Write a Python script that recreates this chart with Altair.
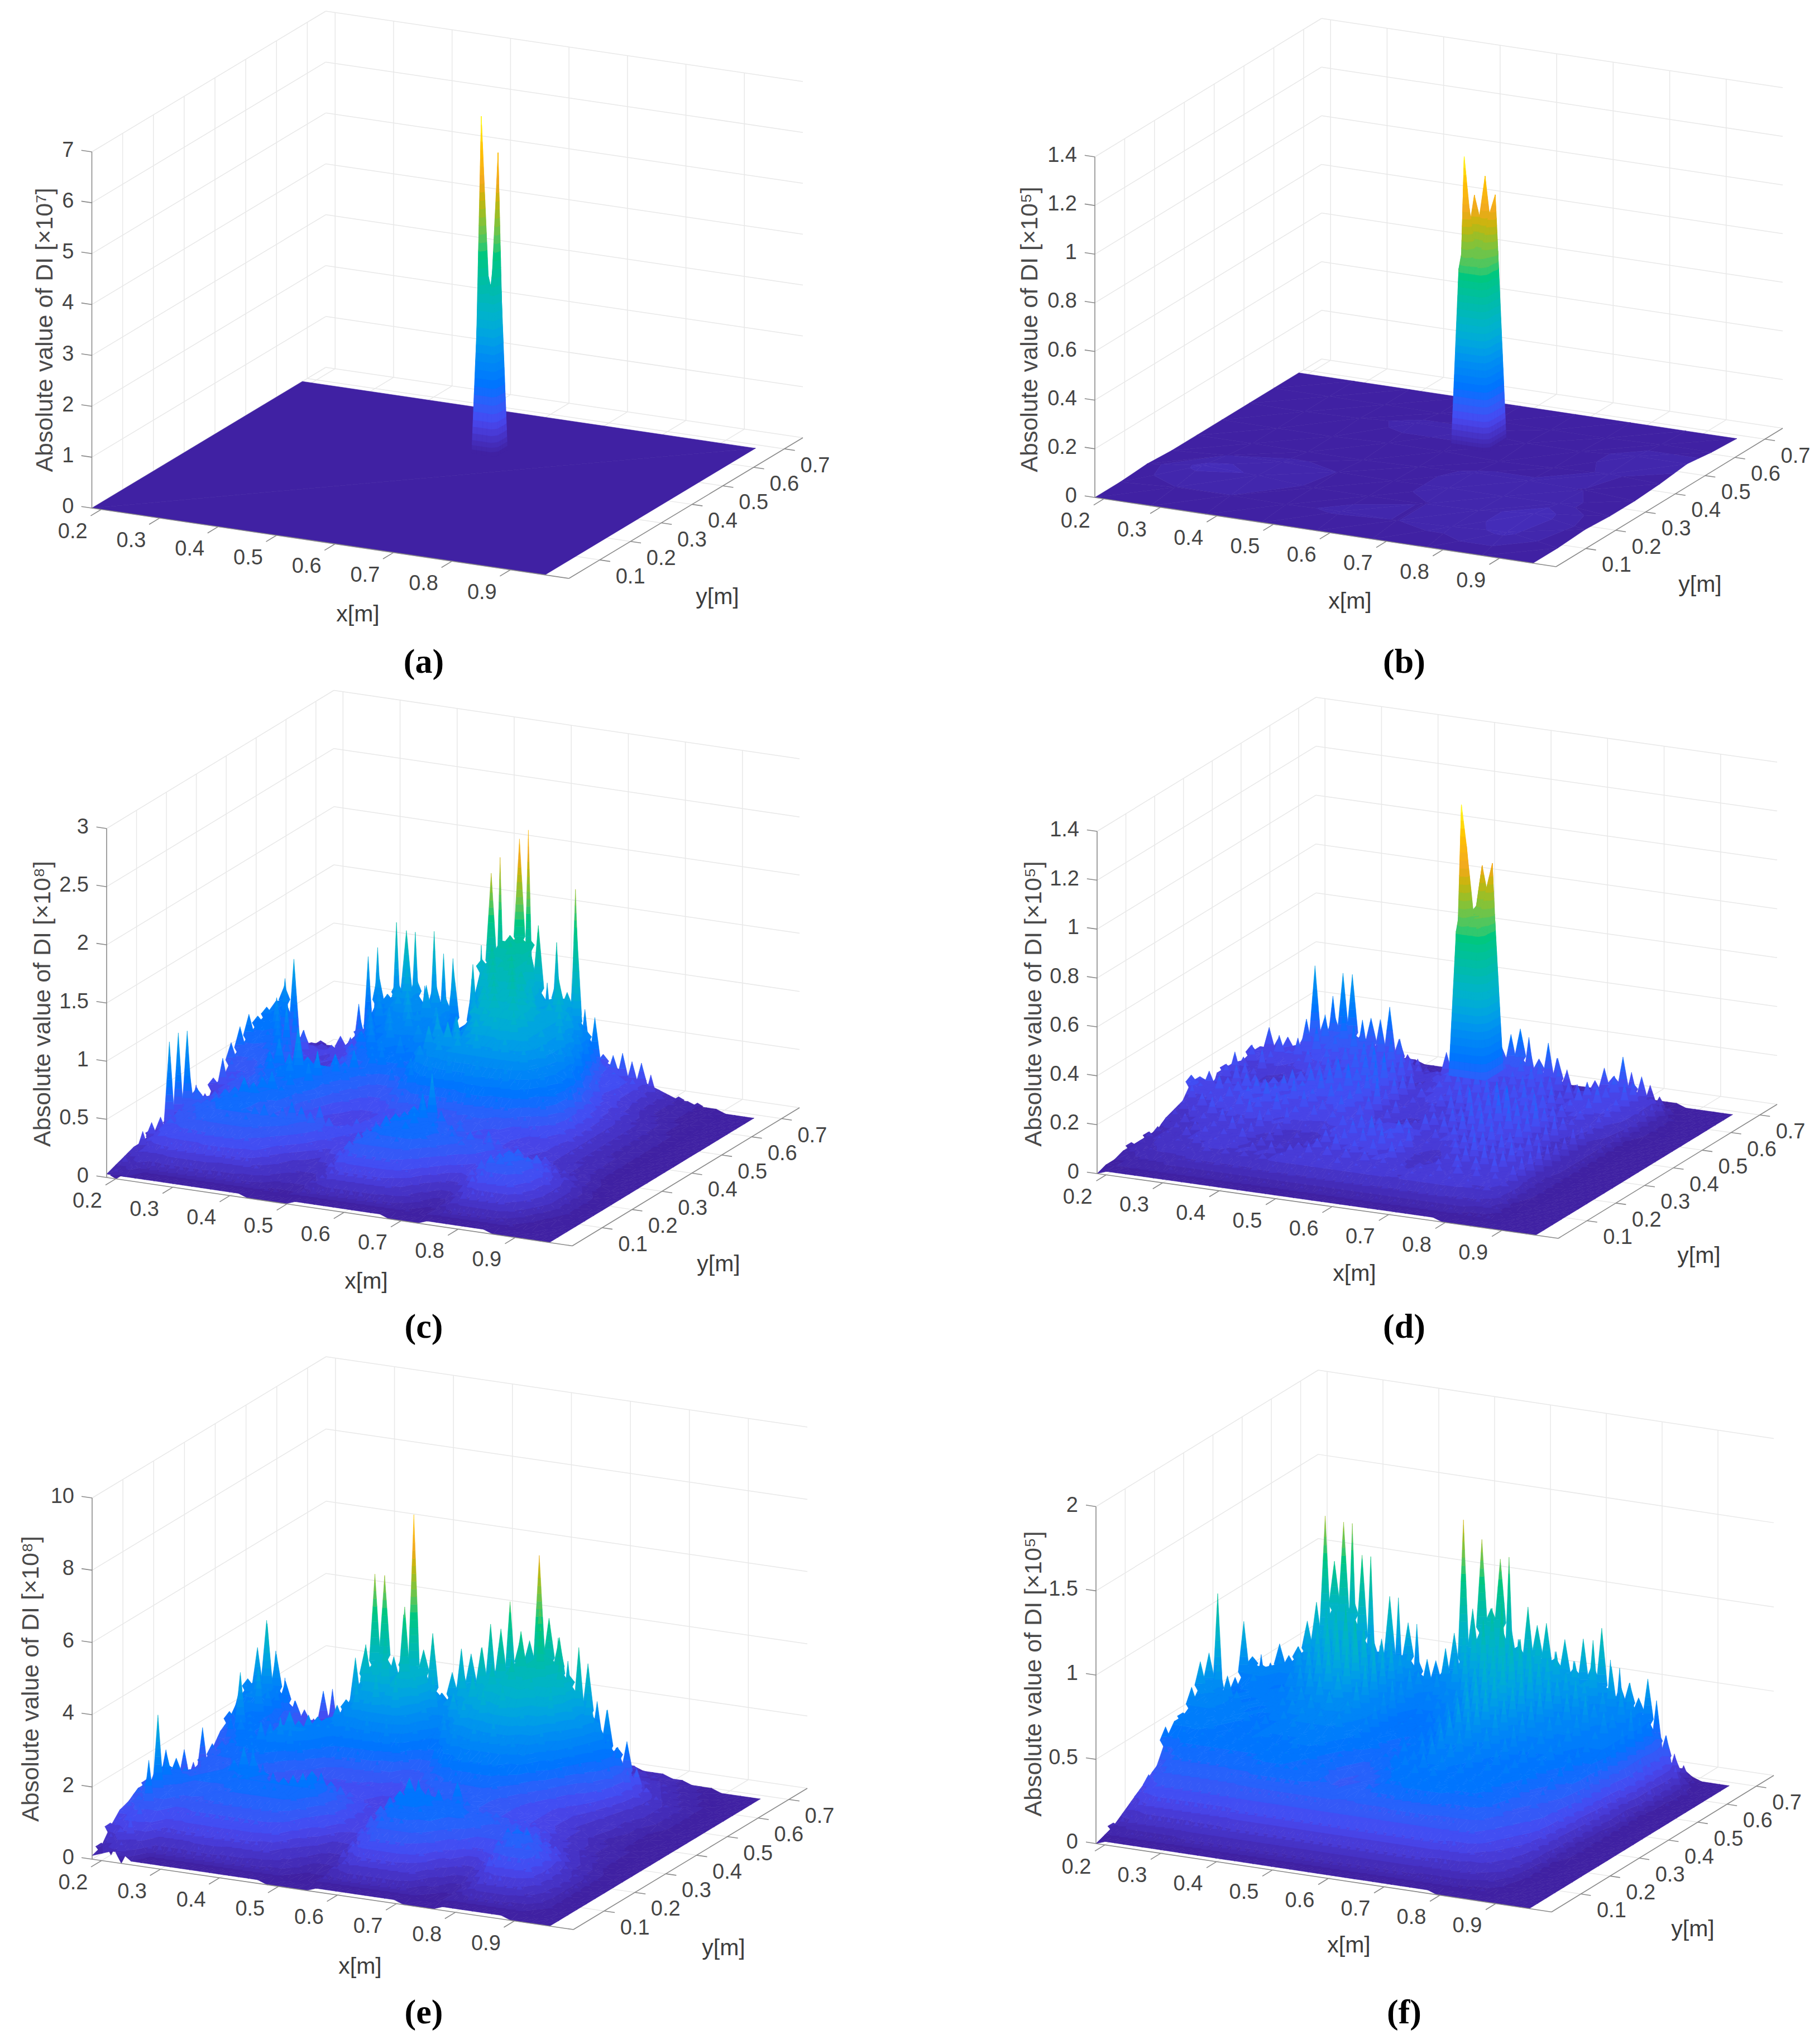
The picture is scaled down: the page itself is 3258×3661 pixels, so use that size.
import altair as alt

# ---- colour ramp (fraction of each panel's peak -> colour)
RAMP_STOPS = [0, .1, .2, .3, .4, .5, .6, .7, .8, .9, 1]
RAMP_COLORS = ["#3F1F9E", "#4848F0", "#0070FF", "#0090F0", "#00B0D0", "#00BCA8",
               "#10C878", "#90C030", "#F0A820", "#FFC000", "#FFFF30"]
LEVELS = [0, .012, .025, .04, .06, .08, .1] + [round(.1 + .025 * k, 3) for k in range(1, 37)]
NEEDLE_W = 10

# ---- axis ticks
X_TICKS = [.2, .3, .4, .5, .6, .7, .8, .9]
Y_TICKS = [.1, .2, .3, .4, .5, .6, .7]
X_RANGE = (.184, 1.0)
Y_RANGE = (0, .76)

# ---- dense surface sampling (metres); rows run from the back (large y) to the front
DENSE_X = [.184 + .776 * i / 47 for i in range(48)]
DENSE_Y = [.684 * (1 - j / 23) for j in range(24)]

# heights are read as % of the top of each z axis
C_Z = [
[3,4,3,2,4,3,5,4,6,5,7,5,8,6,7,5,6,8,6,7,5,6,7,9,8,11,13,15,13,11,10,12,9,8,6,7,5,4,3,3,2,2,1,1,0,0,0,0],
[6,5,4,5,6,7,18,32,35,22,43,25,41,26,42,36,35,14,30,40,40,66,44,46,75,46,32,44,28,60,26,14,10,14,15,13,13,10,5,3,2,2,1,1,1,0,0,0],
[20,9,6,7,6,10,8,13,14,30,24,28,43,30,22,30,24,34,14,30,38,63,44,46,74,46,50,28,36,30,54,22,26,10,11,9,10,7,4,2,2,1,1,1,0,0,0,0],
[24,32,12,8,7,9,8,12,18,22,26,20,28,34,26,24,30,28,20,15,38,36,44,40,46,42,44,32,30,36,34,40,24,16,9,10,7,6,4,3,2,2,1,1,1,0,0,0],
[21,28,10,14,8,6,8,7,12,16,20,26,18,28,30,22,32,26,24,18,16,34,38,46,42,44,38,36,28,32,40,30,28,22,12,8,9,6,5,3,3,2,1,1,1,0,0,0],
[21,18,12,22,9,7,6,8,10,14,18,24,20,26,24,30,26,22,28,20,24,18,32,36,44,40,46,42,38,30,34,36,32,26,18,14,8,8,6,4,3,2,2,1,1,0,0,0],
[20,19,26,12,10,8,7,7,9,12,16,20,24,18,26,22,28,24,22,26,22,28,20,32,38,42,38,44,40,36,32,30,34,28,24,14,10,7,7,5,3,3,2,1,1,0,0,0],
[22,16,18,24,26,12,8,7,8,10,12,16,18,24,20,26,18,22,26,20,30,26,24,22,34,38,42,36,44,38,34,30,28,32,26,20,12,8,7,5,4,3,2,2,1,0,0,0],
[20,14,15,17,22,18,10,9,9,10,12,14,16,14,20,22,18,24,16,22,28,30,26,32,24,32,36,40,36,40,36,30,32,26,28,22,16,10,7,6,4,3,2,1,1,0,0,0],
[17,12,14,13,16,20,14,12,13,12,14,16,14,18,14,20,22,16,20,18,24,30,28,32,30,26,34,30,36,34,38,32,28,30,24,20,18,10,8,5,4,3,2,2,1,0,0,0],
[8,14,10,12,14,18,20,16,17,15,18,16,20,18,22,16,14,12,18,16,22,26,24,28,26,30,28,32,28,30,32,28,30,24,24,18,14,12,8,6,4,3,2,1,1,0,0,0],
[10,16,12,13,12,16,20,24,18,28,20,18,16,20,18,14,12,10,12,14,18,22,20,24,22,26,22,24,26,22,24,26,22,20,17,18,12,10,8,6,4,3,2,2,1,0,0,0],
[2,8,10,12,14,13,16,20,18,22,26,18,24,16,14,12,10,8,9,10,14,16,14,18,14,16,18,16,20,18,16,18,16,14,14,12,10,8,7,6,4,3,3,2,1,0,0,0],
[3,9,8,11,12,13,14,17,16,20,22,16,22,14,10,8,8,7,8,9,11,10,12,10,9,11,10,13,11,14,12,13,10,9,8,8,7,7,6,5,4,3,3,2,1,0,0,0],
[6,13,10,12,11,12,13,15,14,18,16,20,16,14,9,7,7,8,9,10,9,8,10,9,10,12,14,16,12,14,10,12,10,9,8,9,7,6,7,5,4,4,3,2,1,0,0,0],
[5,30,14,12,10,13,14,16,18,20,22,18,16,10,8,9,11,9,10,12,10,8,10,11,12,17,22,28,17,12,15,12,11,14,12,10,9,8,8,9,7,6,5,3,2,1,0,0],
[6,31,24,16,13,15,17,18,21,20,17,14,12,9,11,14,16,13,11,9,8,12,14,12,16,18,20,22,16,14,16,13,15,12,14,11,10,12,10,11,9,8,6,4,2,1,1,0],
[5,30,10,12,14,15,16,17,18,16,14,13,14,16,18,17,15,12,9,8,8,10,13,15,18,19,16,20,16,18,15,16,14,13,11,10,9,12,14,12,13,10,7,5,3,2,1,0],
[6,10,11,13,13,14,15,15,16,17,16,17,18,16,15,13,11,9,8,7,8,11,14,15,17,18,17,19,17,16,14,12,11,9,8,9,12,14,15,14,14,11,9,6,4,2,1,0],
[4,10,9,12,12,13,14,14,15,16,15,16,14,13,11,9,7,5,4,5,7,10,13,14,15,16,15,16,14,12,10,8,6,5,7,10,13,15,15,14,12,9,7,5,3,2,1,0],
[4,9,8,10,10,11,12,12,13,13,13,12,12,10,9,6,5,4,3,3,5,8,11,12,13,13,13,12,11,9,7,4,3,2,4,7,10,12,12,11,10,8,6,4,2,1,1,0],
[3,5,6,7,8,9,9,9,9,10,10,9,9,8,6,5,3,3,2,2,4,6,8,9,9,9,9,8,7,5,4,3,2,1,3,5,7,8,8,8,7,5,4,2,1,1,0,0],
[2,5,3,4,5,5,6,5,6,5,5,5,4,4,3,2,2,2,1,2,3,4,4,5,5,5,5,4,4,3,2,2,1,1,2,3,4,4,4,4,3,3,2,1,1,0,0,0],
[1,3,1,1,1,1,1,1,1,1,1,1,1,1,1,0,0,0,0,0,1,1,1,1,1,1,1,1,1,1,0,0,0,0,1,1,1,1,1,1,1,0,0,0,0,0,0,0],
]
D_Z = [
[2,2,3,3,4,5,5,5,4,4,4,3,3,3,2,2,2,2,2,2,2,3,3,3,3,3,3,3,2,2,2,2,2,2,1,1,1,1,1,1,1,1,0,0,0,0,0,0],
[3,3,4,5,6,8,7,8,8,7,6,5,6,5,4,3,3,3,4,4,4,4,4,5,5,5,6,6,5,5,5,4,4,4,5,5,6,5,5,4,3,1,1,0,0,0,0,0],
[4,5,6,7,26,12,22,10,14,12,16,8,16,9,8,5,5,4,4,12,8,6,6,8,10,12,14,18,11,9,13,9,6,4,5,7,9,10,12,8,9,6,3,1,0,0,0,0],
[11,9,7,6,12,32,17,19,31,31,14,19,19,23,14,9,9,6,6,8,20,14,12,12,14,16,20,22,17,14,19,15,12,6,6,10,14,12,18,11,13,7,6,2,0,0,0,0],
[8,14,10,12,9,18,10,20,14,22,12,20,10,18,12,16,8,9,6,8,14,10,14,8,16,10,16,9,15,8,15,8,14,6,10,7,11,8,14,9,13,6,7,2,1,0,0,0],
[10,8,9,14,10,14,8,18,11,16,9,20,10,16,10,18,8,12,5,7,9,10,14,9,16,9,14,8,13,9,15,8,13,7,12,8,13,9,12,8,14,7,7,2,1,0,0,0],
[7,12,6,11,8,8,10,13,8,14,9,15,10,17,9,14,10,15,6,8,6,8,12,8,16,9,16,8,13,8,14,9,14,7,11,8,13,9,14,8,11,6,6,1,0,0,0,0],
[8,10,7,13,5,6,6,8,7,12,9,14,10,16,11,18,9,15,7,12,6,9,11,7,14,8,16,8,12,7,13,10,13,8,14,7,11,8,12,7,10,5,6,1,0,0,0,0],
[9,13,6,9,5,5,5,7,8,13,9,15,8,14,11,17,12,19,8,13,7,10,8,9,12,7,13,9,15,8,14,8,15,8,13,7,11,7,10,6,9,4,5,1,0,0,0,0],
[8,11,7,12,7,8,7,9,8,12,9,14,11,17,9,15,11,18,8,14,6,9,7,8,11,7,14,7,13,9,17,8,13,9,15,8,12,7,9,6,8,3,4,1,0,0,0,0],
[1,9,7,13,8,11,9,11,9,14,10,15,10,16,11,18,10,16,7,12,6,8,6,7,10,6,13,8,16,8,15,9,18,8,14,7,13,6,11,5,9,3,4,1,0,0,0,0],
[10,12,8,11,9,13,9,12,10,14,8,13,10,16,9,14,10,15,8,17,6,11,5,5,7,6,10,7,12,7,14,8,17,8,15,9,16,7,13,5,10,3,3,1,0,0,0,0],
[12,10,8,13,9,12,10,14,9,13,10,15,8,13,9,15,10,14,9,13,7,10,5,6,8,6,11,7,13,7,15,8,14,8,16,7,14,6,12,5,9,3,3,1,0,0,0,0],
[6,11,7,10,8,12,9,13,10,15,8,12,9,14,8,12,9,14,8,12,8,9,8,8,10,7,12,7,12,8,14,7,15,7,13,8,14,6,11,5,9,3,3,1,0,0,0,0],
[5,8,6,11,7,11,8,12,8,12,9,14,7,11,8,12,7,11,8,10,7,10,11,8,10,11,9,6,10,8,12,7,13,8,14,7,12,8,12,6,10,3,2,1,0,0,0,0],
[4,7,5,9,7,12,6,10,7,13,6,11,8,12,5,8,5,9,8,12,9,13,8,12,10,13,8,6,8,5,8,10,12,7,13,6,13,7,11,6,12,3,2,1,0,0,0,0],
[2,6,4,8,5,9,7,11,6,10,7,12,5,9,4,7,3,6,6,10,8,13,9,15,7,12,9,13,6,4,6,7,11,7,14,6,12,6,13,6,11,3,2,1,0,0,0,0],
[3,5,4,7,5,8,6,9,7,11,6,10,5,8,4,6,4,7,7,11,7,12,8,13,9,14,7,11,6,4,6,6,9,6,12,7,13,6,12,6,11,4,2,1,0,0,0,0],
[2,5,4,6,5,8,6,9,6,9,7,10,5,8,5,7,5,8,6,10,7,12,7,11,7,12,8,12,7,5,7,7,9,6,11,7,11,6,12,6,10,4,1,1,0,0,0,0],
[3,4,3,6,5,6,5,8,6,8,6,8,6,8,6,9,6,9,6,10,7,10,7,10,7,10,7,9,6,8,6,8,6,9,7,10,7,10,6,9,7,5,1,0,0,0,0,0],
[2,3,3,4,4,5,5,6,5,7,5,7,5,7,5,7,6,8,6,8,6,8,6,9,6,8,6,8,6,8,6,8,6,8,6,8,6,8,6,7,5,4,1,0,0,0,0,0],
[1,2,2,3,3,4,3,4,4,5,4,5,4,5,4,5,4,6,4,6,4,6,5,6,5,6,5,6,4,5,4,6,4,6,5,6,4,5,4,5,4,3,1,0,0,0,0,0],
[1,1,1,2,2,2,2,3,2,3,2,3,2,3,2,3,2,3,2,3,2,3,2,3,2,3,2,3,2,3,2,3,2,3,2,3,2,3,2,2,2,2,1,0,0,0,0,0],
[0,1,1,1,1,1,1,1,1,1,1,1,1,1,1,1,1,1,1,1,1,1,1,1,1,1,1,1,1,1,1,1,1,1,1,1,1,0,0,0,0,0,0,0,0,0,0,0],
]
E_Z = [
[3,3,4,3,3,3,4,4,5,4,4,5,5,6,5,5,6,6,6,7,6,6,7,6,6,7,6,6,5,5,5,6,5,4,4,3,3,3,2,2,1,1,1,0,0,0,0,0],
[5,6,5,5,15,10,16,8,8,7,8,9,8,9,10,10,11,10,10,9,10,9,10,11,10,12,11,10,9,10,9,8,8,8,7,6,5,4,3,3,2,2,1,1,0,0,0,0],
[3,4,5,8,16,12,10,9,10,9,11,12,13,12,14,13,14,14,13,14,14,15,16,16,15,15,14,13,13,12,12,11,11,9,8,7,6,5,4,4,3,2,2,1,1,0,0,0],
[8,20,14,12,9,8,8,9,10,12,12,14,15,16,18,18,18,20,16,20,22,20,24,24,22,26,24,26,24,22,24,20,20,17,16,14,10,8,6,5,4,3,2,2,1,0,0,0],
[14,29,21,16,10,9,8,9,10,13,15,17,20,16,24,22,26,22,24,20,26,22,32,28,34,30,36,30,38,34,44,38,34,30,28,26,16,12,9,6,5,3,3,2,1,1,0,0],
[22,39,30,20,12,10,9,10,11,14,16,18,22,26,30,24,34,28,30,26,29,39,38,30,47,32,54,39,44,68,51,45,36,27,40,24,28,18,20,13,8,6,4,3,2,1,0,0],
[24,33,40,22,14,12,10,11,12,15,17,20,28,34,42,36,48,38,36,44,21,34,36,30,42,36,48,38,46,40,56,42,48,38,46,34,26,22,20,14,8,6,4,3,2,1,0,0],
[20,22,29,24,16,13,11,12,13,17,20,24,36,39,60,60,25,40,78,41,35,23,28,36,32,44,36,46,40,50,42,52,38,44,32,28,22,18,16,10,7,5,3,2,1,0,0,0],
[18,24,22,31,18,14,12,13,14,18,20,22,26,32,42,38,46,34,54,36,28,20,26,32,30,38,34,42,36,44,38,40,34,38,26,24,18,14,12,8,5,4,3,2,1,1,0,0],
[14,16,18,20,18,15,14,15,16,20,22,20,26,24,32,30,36,28,36,26,24,18,16,26,26,32,28,36,30,38,32,32,26,28,20,18,13,10,9,6,4,4,2,2,1,0,0,0],
[10,14,20,33,20,18,16,17,18,22,24,22,22,20,24,22,26,20,26,20,18,13,14,20,20,26,24,28,26,30,26,26,22,20,15,13,10,8,7,5,4,3,2,2,1,0,0,0],
[8,12,13,15,22,20,18,22,22,26,22,20,18,16,18,16,18,14,16,12,12,11,12,15,16,20,20,22,20,22,20,20,16,15,11,10,8,7,6,5,4,3,2,2,1,0,0,0],
[6,20,16,17,18,19,20,24,22,26,24,20,14,13,12,11,12,11,11,10,10,10,11,12,13,16,16,18,16,18,17,16,14,12,9,9,8,7,6,5,5,3,2,2,1,1,0,0],
[6,12,14,15,16,17,18,20,18,16,15,13,10,9,9,10,10,10,9,8,8,8,9,10,11,13,12,14,13,15,14,13,12,11,10,9,9,8,8,6,5,4,3,2,2,1,0,0],
[7,17,12,13,14,15,15,16,14,12,11,10,9,10,10,12,14,13,12,10,9,8,9,11,12,12,13,13,14,18,15,13,13,12,11,11,11,10,9,7,6,5,4,3,2,1,0,0],
[9,12,13,14,13,14,15,16,18,22,18,14,14,12,11,14,18,16,15,12,10,8,9,12,14,16,20,18,14,16,21,16,14,14,14,13,12,10,10,9,7,6,5,3,2,1,0,0],
[12,20,17,16,15,15,16,17,20,24,22,18,18,16,16,18,20,18,16,13,11,8,9,13,16,18,22,20,18,20,16,18,15,15,15,14,13,11,11,12,10,9,7,4,3,2,1,0],
[13,17,18,20,16,15,15,16,17,18,18,17,17,18,19,20,21,19,14,12,10,7,8,12,15,17,20,19,18,19,16,16,17,15,15,12,12,13,15,15,13,11,9,6,4,3,1,0],
[12,15,17,22,16,15,14,14,15,15,16,17,17,18,18,17,16,15,11,9,8,5,6,10,13,15,18,18,17,18,15,15,14,11,11,9,10,12,16,16,16,13,11,7,5,3,1,0],
[10,14,18,35,14,14,13,13,13,14,14,15,15,15,15,14,13,11,8,6,5,3,4,8,11,13,16,16,16,15,13,13,10,7,6,4,7,9,14,15,15,14,13,8,5,3,1,0],
[9,12,14,24,11,11,11,11,12,12,12,12,12,12,12,11,10,8,5,4,3,2,3,7,9,10,13,13,13,12,10,10,7,4,3,2,5,7,11,12,12,12,11,7,4,2,1,0],
[7,9,10,13,8,8,8,8,9,9,9,9,9,9,8,8,7,5,3,3,2,1,2,4,6,7,9,9,9,8,7,7,4,2,2,1,3,4,7,8,8,7,7,4,3,2,0,0],
[3,6,8,11,5,5,5,5,5,5,6,5,5,5,4,4,3,3,2,1,1,1,1,3,3,4,5,5,5,5,4,4,2,1,1,1,2,2,4,4,4,3,3,2,1,1,0,0],
[1,2,3,6,1,1,1,1,1,1,1,1,1,1,1,1,1,1,0,0,0,0,0,1,1,1,1,1,1,1,1,1,0,0,0,0,1,1,1,1,1,1,1,0,0,0,0,0],
]
F_Z = [
[2,3,3,4,5,5,6,5,6,6,6,5,5,5,5,4,4,4,5,5,6,6,6,6,6,6,6,6,6,5,5,5,5,5,5,5,5,4,4,4,4,3,3,1,0,0,0,0],
[4,3,5,8,12,14,16,14,16,15,15,14,13,13,12,12,12,11,12,13,15,15,16,17,18,16,16,16,16,15,14,14,14,14,14,14,14,13,12,12,12,12,9,6,2,0,0,0],
[5,6,8,18,26,32,40,50,65,40,56,30,36,45,32,38,26,24,22,24,30,32,40,44,48,62,38,36,40,34,36,38,34,28,32,30,36,34,26,24,22,26,16,10,4,0,0,0],
[10,14,20,26,28,34,68,55,67,45,58,35,30,47,30,40,30,26,30,28,39,73,47,68,48,63,46,38,50,45,46,36,42,34,43,36,47,29,31,32,28,34,19,18,9,3,0,0],
[26,24,30,27,30,38,44,30,42,34,40,30,38,28,36,30,34,24,32,26,36,30,42,34,46,32,44,34,42,30,46,32,40,30,38,32,45,26,38,26,34,24,23,14,7,2,0,0],
[27,25,24,28,24,32,38,28,44,30,42,32,40,26,38,28,34,24,30,22,30,26,36,28,48,30,52,34,46,30,44,28,40,28,36,26,34,26,32,24,34,22,26,14,6,2,0,0],
[39,26,24,22,20,26,32,26,40,30,46,30,44,28,40,26,38,24,32,22,26,22,28,26,40,28,50,36,56,30,46,28,40,26,36,24,36,24,30,22,28,22,30,16,8,1,0,0],
[24,22,26,24,22,22,28,24,36,28,44,32,50,30,44,26,38,24,30,20,24,20,26,24,30,26,38,30,44,36,48,28,42,26,38,26,34,24,34,22,30,22,26,14,5,1,0,0],
[19,20,22,24,22,24,26,24,32,26,38,30,44,32,48,28,40,24,32,20,22,20,24,22,28,24,36,28,42,30,44,28,40,26,36,24,30,24,30,22,26,22,24,12,4,1,0,0],
[52,24,22,20,22,22,24,22,28,24,34,28,40,30,42,28,38,24,30,20,22,20,22,20,26,22,32,26,38,28,40,28,38,24,34,24,30,22,28,20,24,20,22,10,5,1,0,0],
[36,34,30,26,22,20,22,22,26,24,30,26,34,28,36,28,34,24,28,20,20,18,20,20,24,22,30,26,36,28,38,26,36,22,32,22,28,22,26,20,24,18,20,10,3,1,0,0],
[35,28,26,24,22,22,22,20,24,22,28,24,30,26,32,26,30,22,26,20,20,18,22,20,24,20,28,24,34,26,36,24,34,22,30,20,26,22,26,18,24,18,18,9,3,1,0,0],
[29,26,26,24,22,22,24,20,24,22,26,24,28,24,28,24,28,22,24,20,22,18,20,18,22,20,26,24,32,24,34,22,30,20,28,20,26,20,24,18,22,16,16,8,2,1,0,0],
[23,24,24,22,22,20,22,20,24,22,24,22,26,22,26,22,24,20,22,18,18,18,20,20,24,20,26,22,30,22,30,22,28,20,26,20,24,20,22,16,20,14,14,7,2,1,0,0],
[22,22,22,22,24,20,22,20,22,22,24,20,24,22,24,22,24,18,20,16,16,16,18,18,22,20,24,20,28,22,28,20,26,20,24,20,24,18,22,16,18,14,12,6,2,1,0,0],
[22,20,22,20,22,20,22,20,22,20,22,20,22,20,24,20,22,18,20,14,14,14,16,16,20,20,24,20,26,22,26,20,24,20,22,20,22,18,20,14,16,12,10,5,1,0,0,0],
[12,18,18,20,20,18,20,18,20,18,20,20,22,20,22,18,20,18,20,14,14,14,16,16,18,18,22,20,24,20,24,20,22,20,22,20,22,18,18,14,14,12,10,5,1,0,0,0],
[10,14,16,18,18,18,18,18,18,18,18,18,20,18,20,20,20,18,18,18,16,16,16,16,18,18,20,20,22,20,22,20,20,20,20,20,20,18,18,14,12,10,8,4,1,0,0,0],
[8,13,14,15,16,16,16,16,16,16,17,17,17,18,18,18,18,18,17,17,16,16,16,16,16,16,18,18,18,20,20,20,18,18,18,18,16,15,14,12,10,8,6,3,1,0,0,0],
[6,10,12,13,14,14,14,14,14,14,14,14,15,15,15,15,15,15,15,15,15,14,14,14,14,15,15,15,15,16,16,16,15,15,15,15,14,13,12,10,8,7,5,2,0,0,0,0],
[4,8,9,10,11,11,11,11,11,11,11,11,11,12,12,12,12,12,12,12,12,12,12,12,12,12,12,12,12,12,12,12,12,12,11,11,11,10,9,8,6,5,4,1,0,0,0,0],
[3,5,6,6,7,7,7,7,7,7,7,7,7,8,8,8,8,8,8,8,8,8,8,8,8,8,8,8,8,8,8,8,8,8,7,7,7,6,6,5,4,3,2,1,0,0,0,0],
[1,2,2,3,3,3,3,3,3,4,4,4,4,4,4,4,4,4,4,4,4,4,4,4,4,4,4,4,4,4,4,4,4,3,3,3,3,3,3,2,2,2,1,0,0,0,0,0],
[0,1,1,1,1,1,1,1,1,1,1,1,1,1,1,1,1,1,1,1,1,1,1,1,1,1,1,1,1,1,1,1,1,1,1,1,1,0,0,0,0,0,0,0,0,0,0,0],
]

# the single damage column in (a), (b), (d)
A_COL_X = [.581, .589, .598, .606, .614, .622]
A_COL_Y = [.518, .511, .503, .496, .488, .480]
A_COL_Z = [
[0,0,0,0,0,0],
[0,12,45,48,50,0],
[0,55,46,47,84,0],
[0,94,46,44,60,0],
[0,48,42,42,50,0],
[0,0,0,0,0,0],
]
COL_X = [.572, .581, .590, .599, .609, .618, .627, .637]
COL_Y = [.521, .512, .503, .495, .486, .477, .468, .460]
B_COL_Z = [
[0,0,0,0,0,0,0,0],
[0,35,50,54,55,58,56,0],
[0,52,72,66,78,58,73,0],
[0,58,56,54,57,66,55,0],
[0,84,69,56,55,56,54,0],
[0,56,58,55,56,55,53,0],
[0,52,54,53,52,54,35,0],
[0,0,0,0,0,0,0,0],
]
D_COL_Z = [
[14,14,14,14,14,14,14,14],
[14,30,55,58,60,62,58,14],
[14,55,60,62,74,60,75,14],
[14,60,58,58,60,66,60,14],
[14,92,80,60,58,60,56,14],
[14,60,62,58,60,58,56,14],
[14,56,58,56,55,58,30,14],
[14,14,14,14,14,14,14,14],
]
# flat floor of (a) and faintly raised floor of (b)
FLOOR_X = [.184, .959]
FLOOR_Y = [.684, 0]
FLOOR_Z = [[0, 0], [0, 0]]
B_FLOOR_X = [.184, .282, .380, .478, .576, .674, .771, .869, .959]
B_FLOOR_Y = [.684, .600, .517, .426, .342, .258, .175, .084, 0]
B_FLOOR_Z = [
[0,0,0,0,0,0,0,0,0],
[0,0,0,0,0,0,0,.5,.5],
[0,0,.5,1.5,1.5,.5,.5,1.5,1.5],
[0,0,0,.5,.5,0,.5,1.2,.5],
[0,0,0,0,.5,1.2,1.2,1,0],
[0,1,1.5,1,.8,1.2,1.2,1.5,0],
[.5,2.5,2,.8,.8,1,1.5,3,.5],
[0,1,1,.8,1.2,1,1.5,2.5,0],
[0,0,0,0,0,0,0,0,0],
]

PANELS = [
 dict(name="(a)", L=(164.5,910), B=(1019,1036), R=(1438,784), H=638, peak=94,
      zt=[0,1,2,3,4,5,6,7], zl=[str(k) for k in range(8)], exp="⁷",
      meshes=[(FLOOR_X,FLOOR_Y,FLOOR_Z,0),(A_COL_X,A_COL_Y,A_COL_Z,1)],
      xl=(641,1101), yl=(1285,1070), zlab=(81,591), cap=(759,1186)),
 dict(name="(b)", L=(1961,891), B=(2787,1015), R=(3193,767), H=610, peak=85,
      zt=[0,.2,.4,.6,.8,1,1.2,1.4], zl=["0","0.2","0.4","0.6","0.8","1","1.2","1.4"], exp="⁵",
      meshes=[(B_FLOOR_X,B_FLOOR_Y,B_FLOOR_Z,0),(COL_X,COL_Y,B_COL_Z,1)],
      xl=(2418,1078), yl=(3045,1048), zlab=(1845,590), cap=(2515,1186)),
 dict(name="(c)", L=(191,2109), B=(1025,2231.5), R=(1432,1984), H=625, peak=85,
      zt=[0,.5,1,1.5,2,2.5,3], zl=["0","0.5","1","1.5","2","2.5","3"], exp="⁸",
      meshes=[(DENSE_X,DENSE_Y,C_Z,0)],
      xl=(656,2296), yl=(1287,2265), zlab=(77,1798), cap=(759,2377)),
 dict(name="(d)", L=(1965,2102), B=(2791,2218), R=(3183,1978), H=613, peak=92,
      zt=[0,.2,.4,.6,.8,1,1.2,1.4], zl=["0","0.2","0.4","0.6","0.8","1","1.2","1.4"], exp="⁵",
      meshes=[(DENSE_X,DENSE_Y,D_Z,0),(COL_X,COL_Y,D_COL_Z,0)],
      xl=(2426,2282), yl=(3043,2250), zlab=(1852,1798), cap=(2515,2377)),
 dict(name="(e)", L=(165,3330), B=(1027,3456), R=(1446,3203), H=647, peak=85,
      zt=[0,2,4,6,8,10], zl=["0","2","4","6","8","10"], exp="⁸",
      meshes=[(DENSE_X,DENSE_Y,E_Z,0)],
      xl=(645,3523), yl=(1296,3490), zlab=(56,3007), cap=(759,3605)),
 dict(name="(f)", L=(1963,3302), B=(2779,3424.5), R=(3177,3180), H=603.5, peak=95,
      zt=[0,.5,1,1.5,2], zl=["0","0.5","1","1.5","2"], exp="⁵",
      meshes=[(DENSE_X,DENSE_Y,F_Z,0)],
      xl=(2416,3485), yl=(3032,3456), zlab=(1852,2998), cap=(2515,3605)),
]


def uv(x, y):
    return (x - X_RANGE[0]) / (X_RANGE[1] - X_RANGE[0]), (y - Y_RANGE[0]) / (Y_RANGE[1] - Y_RANGE[0])


def at(p, u, v, h=0.0):
    L, B, R = p["L"], p["B"], p["R"]
    sx = L[0] + u * (B[0] - L[0]) + v * (R[0] - B[0])
    sy = L[1] + u * (B[1] - L[1]) + v * (R[1] - B[1]) - h * p["H"]
    return sx, sy


def clip(poly, lo, hi):
    def cut(pts, keep, t):
        out = []
        for a, b in zip(pts, pts[1:] + pts[:1]):
            ka, kb = keep(a[2]), keep(b[2])
            if ka:
                out.append(a)
            if ka != kb:
                s = (t - a[2]) / (b[2] - a[2])
                out.append((a[0] + s * (b[0] - a[0]), a[1] + s * (b[1] - a[1]), t))
        return out
    pts = cut(poly, lambda z: z >= lo, lo)
    return cut(pts, lambda z: z <= hi, hi) if pts else []


def split_needles(zs):
    """A node standing above its lower neighbours is drawn as a thin needle on a
    body surface that follows them, so narrow peaks stay narrow."""
    body, needles = [list(r) for r in zs], []
    rows, cols = len(zs), len(zs[0])
    for j in range(rows):
        for i in range(cols):
            around = sorted(zs[b][a] for b in range(max(j - 1, 0), min(j + 2, rows))
                            for a in range(max(i - 1, 0), min(i + 2, cols)) if (a, b) != (i, j))
            low = around[len(around) // 4]
            if zs[j][i] - low >= 1:
                body[j][i] = low
                needles.append((i, j, zs[j][i], low))
    return body, needles


def surface(p):
    tris = []
    for xs, ys, zs, prio in p["meshes"]:
        needles = []
        if len(xs) == len(DENSE_X):
            zs, needles = split_needles(zs)
        for j in range(len(ys) - 1):
            for i in range(len(xs) - 1):
                c = []
                for jj, ii in ((j, i), (j, i + 1), (j + 1, i), (j + 1, i + 1)):
                    pct = zs[jj][ii]
                    u, v = uv(xs[ii], ys[jj])
                    sx, sy = at(p, u, v, pct / 100)
                    c.append((sx, sy, pct / p["peak"], at(p, u, v)[1]))
                for t in ((c[0], c[1], c[2]), (c[1], c[3], c[2])):
                    tris.append((prio, sum(q[3] for q in t) / 3, [q[:3] for q in t]))
        for i, j, top, mid in needles:
            u, v = uv(xs[i], ys[j])
            ax, ay = at(p, u, v, top / 100)
            bx, by = at(p, u, v, mid / 100)
            low = max(mid - 3, 0)
            _, dy = at(p, u, v, low / 100)
            w = NEEDLE_W
            f_top, f_mid, f_low = top / p["peak"], mid / p["peak"], low / p["peak"]
            depth = at(p, u, v)[1] + .5
            tris.append((prio, depth, [(ax, ay, f_top), (bx - w, by, f_mid), (bx + w, by, f_mid)]))
            tris.append((prio, depth, [(bx - w, by, f_mid), (bx + w, by, f_mid), (bx, dy, f_low)]))
    tris.sort(key=lambda t: (t[0], t[1]))
    feats = []
    for _, _, t in tris:
        zmin, zmax = min(q[2] for q in t), max(q[2] for q in t)
        for lo, hi in zip(LEVELS, LEVELS[1:]):
            if hi < zmin or lo > zmax:
                continue
            if zmax - zmin < 1e-9:
                poly = t
            else:
                poly = clip(t, lo, hi)
            if len(poly) < 3:
                continue
            ring = [[round(q[0], 1), round(q[1], 1)] for q in poly]
            ring.append(ring[0])
            feats.append({"type": "Feature", "f": round((lo + hi) / 2, 3),
                          "geometry": {"type": "Polygon", "coordinates": [ring]}})
            if zmax - zmin < 1e-9:
                break
    return feats


grid_rows, axis_rows, tick_text, lab_text, z_text, cap_text, features = [], [], [], [], [], [], []
for p in PANELS:
    features += surface(p)
    ztop = p["zt"][-1]
    def seg(rows, a, b):
        rows.append({"x": a[0], "y": a[1], "x2": b[0], "y2": b[1]})
    for z in p["zt"]:
        h = z / ztop
        seg(grid_rows, at(p, 0, 0, h), at(p, 0, 1, h))
        seg(grid_rows, at(p, 0, 1, h), at(p, 1, 1, h))
    for tx in X_TICKS:
        u, _ = uv(tx, 0)
        seg(grid_rows, at(p, u, 0), at(p, u, 1))
        seg(grid_rows, at(p, u, 1), at(p, u, 1, 1))
    for ty in Y_TICKS:
        _, v = uv(0, ty)
        seg(grid_rows, at(p, 0, v), at(p, 1, v))
        seg(grid_rows, at(p, 0, v), at(p, 0, v, 1))
    # axis lines
    seg(axis_rows, at(p, 0, 0), at(p, 1, 0))
    seg(axis_rows, at(p, 1, 0), at(p, 1, 1))
    seg(axis_rows, at(p, 0, 0), at(p, 0, 0, 1))
    # ticks run along the neighbouring axis direction
    for tx in X_TICKS:
        u, _ = uv(tx, 0)
        a = at(p, u, 0)
        seg(axis_rows, a, at(p, u, -.045))
        tick_text.append({"x": a[0] - 51, "y": a[1] + 41, "t": f"{tx:.1f}"})
    for ty in Y_TICKS:
        _, v = uv(0, ty)
        a = at(p, 1, v)
        seg(axis_rows, a, at(p, 1.022, v))
        tick_text.append({"x": a[0] + 55, "y": a[1] + 31, "t": f"{ty:.1f}"})
    for z, lab in zip(p["zt"], p["zl"]):
        a = at(p, 0, 0, z / ztop)
        seg(axis_rows, a, at(p, -.022, 0, z / ztop))
        z_text.append({"x": a[0] - 32, "y": a[1] - 2, "t": lab})
    lab_text.append({"x": p["xl"][0], "y": p["xl"][1], "t": "x[m]"})
    lab_text.append({"x": p["yl"][0], "y": p["yl"][1], "t": "y[m]"})
    cap_text.append({"x": p["cap"][0], "y": p["cap"][1], "t": p["name"]})
    p["ztitle"] = {"x": p["zlab"][0], "y": p["zlab"][1], "t": f"Absolute value of DI [×10{p['exp']}]"}

X = alt.X("x:Q", scale=alt.Scale(domain=[8, 3250]), axis=None)
Y = alt.Y("y:Q", scale=alt.Scale(domain=[3653, 8]), axis=None)
SANS = "Liberation Sans"


def lines(rows, color, width):
    return alt.Chart(alt.Data(values=rows)).mark_rule(color=color, strokeWidth=width).encode(
        x=X, y=Y, x2="x2:Q", y2="y2:Q")


def texts(rows, **kw):
    return alt.Chart(alt.Data(values=rows)).mark_text(baseline="middle", **kw).encode(x=X, y=Y, text="t:N")


ramp = alt.Scale(domain=RAMP_STOPS, range=RAMP_COLORS, clamp=True)
surf = alt.Chart(alt.Data(values=features)).mark_geoshape(strokeWidth=.6, strokeJoin="round").encode(
    fill=alt.Fill("f:Q", scale=ramp, legend=None),
    stroke=alt.Stroke("f:Q", scale=ramp, legend=None),
).project(type="identity", scale=1, translate=[-8, -8])

chart = alt.layer(
    lines(grid_rows, "#E8E8E8", 1.5),
    surf,
    lines(axis_rows, "#8A8A8A", 1.6),
    texts(tick_text, font=SANS, fontSize=38, color="#454545", align="center"),
    texts(z_text, font=SANS, fontSize=38, color="#454545", align="right"),
    texts(lab_text, font=SANS, fontSize=41, color="#3C3C3C", align="center"),
    texts([p["ztitle"] for p in PANELS], font=SANS, fontSize=43, color="#4A4A4A", align="center", angle=270),
    texts(cap_text, font="Liberation Serif", fontSize=62, fontWeight="bold", color="#000000", align="center"),
).properties(width=3242, height=3645, padding=0, autosize=alt.AutoSizeParams(type="none")
).configure_view(stroke=None)

chart.save("out.html", embed_options={"renderer": "svg", "actions": False})
